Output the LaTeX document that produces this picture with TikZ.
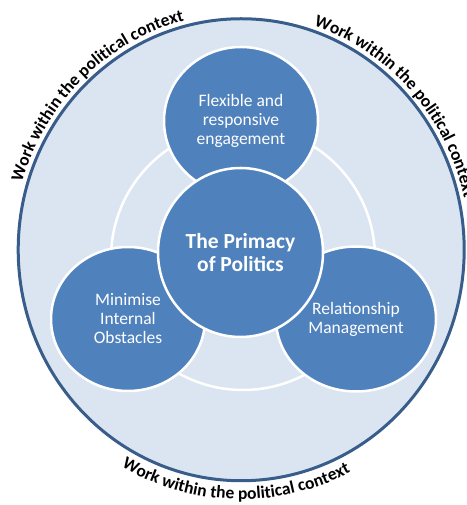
\documentclass[tikz,border=0pt]{standalone}
\usepackage{fontspec}
\setmainfont{Carlito}
\usetikzlibrary{shapes.geometric,decorations.text}
\definecolor{rimblue}{HTML}{385D8A}
\definecolor{paleblue}{HTML}{DBE5F1}
\definecolor{midblue}{HTML}{4F81BD}
\newcommand\curvefont{\fontsize{17.5}{20}\selectfont\bfseries}
\begin{document}
\begin{tikzpicture}[x=1pt,y=1pt,
  outerdisc/.style={draw=rimblue, line width=3pt, fill=paleblue},
  ringline/.style={draw=white, line width=2.5pt},
  bubble/.style={ellipse, fill=midblue, draw=white, line width=2.5pt,
    text=white, align=center, inner sep=0pt,
    font=\fontsize{17.5}{19}\selectfont},
  hub/.style={bubble, font=\fontsize{21.5}{23}\selectfont\bfseries},
  curvetext/.style={decorate, decoration={text along path,
    text={|\curvefont|Work within the political context}, text align=center}}
]
\useasboundingbox (0,0) rectangle (466,505);
\fill[white] (0,0) rectangle (466,505);
\coordinate (O) at (241.2,255.25);

% outer context disc and the ring linking the three satellites
\draw[outerdisc] (O) ellipse[x radius=223, y radius=231];
\draw[ringline] (243,247) circle[radius=132];

% satellites
\node[bubble, minimum width=154, minimum height=148] (flex) at (241,384)
  {Flexible and\\responsive\\engagement};
\node[bubble, minimum width=154, minimum height=144] (minim) at (128,186)
  {Minimise\\Internal\\Obstacles};
\node[bubble, minimum width=160, minimum height=145] (relat) at (356,186)
  {Relationship\\Management};

% hub
\node[hub, minimum width=165, minimum height=169] (hub) at (240.5,252.5)
  {The Primacy\\of Politics};

% curved captions around the disc
\path[curvetext] ([shift={(173.8:228.5 and 236.5)}]O)
  arc[start angle=173.8, end angle=93.8, x radius=228.5, y radius=236.5];
\path[curvetext] ([shift={(82.2:228.5 and 236.5)}]O)
  arc[start angle=82.2, end angle=2.2, x radius=228.5, y radius=236.5];
\path[curvetext] ([shift={(223.6:241.5 and 249.5)}]O)
  arc[start angle=223.6, end angle=313.6, x radius=241.5, y radius=249.5];
\end{tikzpicture}
\end{document}
